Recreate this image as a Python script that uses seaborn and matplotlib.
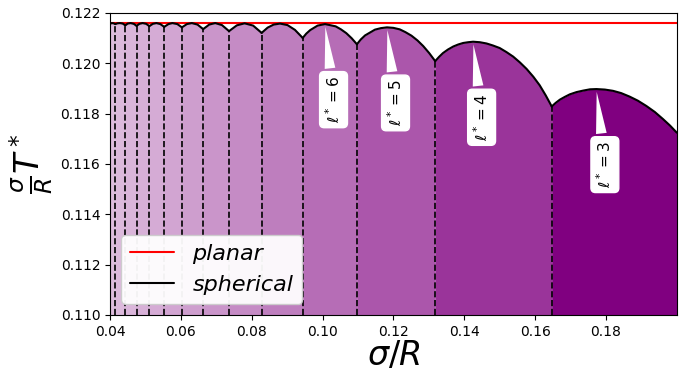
import numpy as np
import pandas as pd
import seaborn as sns
import matplotlib
matplotlib.use("agg")
import matplotlib.pyplot as plt

# data (sigma/R vs sigma/R * T*)
planar_T = 0.12161
x_range = [0.04, 0.20]

l_values = [16, 15, 14, 13, 12, 11, 10, 9, 8, 7, 6, 5, 4, 3]

seg_x = [
    [0.0400, 0.0405, 0.0410, 0.0415],
    [0.0415, 0.0421, 0.0428, 0.0436, 0.0443],
    [0.0443, 0.0450, 0.0458, 0.0467, 0.0475],
    [0.0475, 0.0483, 0.0492, 0.0502, 0.0511],
    [0.0511, 0.0521, 0.0531, 0.0542, 0.0553],
    [0.0553, 0.0565, 0.0576, 0.0590, 0.0603],
    [0.0603, 0.0617, 0.0631, 0.0647, 0.0663],
    [0.0663, 0.0680, 0.0697, 0.0716, 0.0736],
    [0.0736, 0.0758, 0.0780, 0.0804, 0.0828],
    [0.0828, 0.0845, 0.0862, 0.0880, 0.0901, 0.0922, 0.0944],
    [0.0944, 0.0954, 0.0965, 0.0986, 0.1007, 0.1037, 0.1052, 0.1067, 0.1082, 0.1097],
    [0.1097, 0.1108, 0.1120, 0.1148, 0.1165, 0.1182, 0.1200, 0.1218, 0.1234, 0.1251,
     0.1268, 0.1284, 0.1301, 0.1318],
    [0.1318, 0.1329, 0.1340, 0.1354, 0.1369, 0.1383, 0.1397, 0.1411, 0.1425, 0.1444,
     0.1463, 0.1481, 0.1500, 0.1519, 0.1538, 0.1557, 0.1576, 0.1595, 0.1613, 0.1630, 0.1647],
    [0.1647, 0.1658, 0.1670, 0.1684, 0.1698, 0.1717, 0.1736, 0.1755, 0.1773, 0.1797,
     0.1820, 0.1843, 0.1867, 0.1890, 0.1914, 0.1938, 0.1961, 0.1981, 0.2000],
]
seg_y = [
    [0.12156, 0.12159, 0.12158, 0.12155],
    [0.12155, 0.12158, 0.12159, 0.12157, 0.12150],
    [0.12150, 0.12157, 0.12159, 0.12156, 0.12148],
    [0.12148, 0.12156, 0.12159, 0.12156, 0.12147],
    [0.12147, 0.12156, 0.12159, 0.12155, 0.12144],
    [0.12144, 0.12155, 0.12159, 0.12155, 0.12142],
    [0.12142, 0.12155, 0.12159, 0.12153, 0.12135],
    [0.12135, 0.12153, 0.12159, 0.12151, 0.12127],
    [0.12127, 0.12150, 0.12158, 0.12149, 0.12120],
    [0.12120, 0.12141, 0.12153, 0.12157, 0.12151, 0.12132, 0.12100],
    [0.12100, 0.12117, 0.12131, 0.12149, 0.12155, 0.12146, 0.12134, 0.12119, 0.12099, 0.12075],
    [0.12075, 0.12094, 0.12110, 0.12133, 0.12139, 0.12142, 0.12140, 0.12134, 0.12123, 0.12109,
     0.12090, 0.12068, 0.12040, 0.12008],
    [0.12008, 0.12025, 0.12040, 0.12054, 0.12066, 0.12074, 0.12080, 0.12083, 0.12085, 0.12083,
     0.12078, 0.12070, 0.12060, 0.12044, 0.12026, 0.12003, 0.11977, 0.11946, 0.11912, 0.11872, 0.11828],
    [0.11828, 0.11842, 0.11855, 0.11866, 0.11876, 0.11885, 0.11891, 0.11896, 0.11897, 0.11895,
     0.11890, 0.11881, 0.11867, 0.11851, 0.11830, 0.11806, 0.11778, 0.11752, 0.11724],
]
labelled = [6, 5, 4, 3]

rows = []
for l, xs, ys in zip(l_values, seg_x, seg_y):
    for x, y in zip(xs, ys):
        rows.append({'l': l, 'x': x, 'T': y})
df = pd.DataFrame(rows)

sns.set_style('ticks', {'text.color': 'black', 'axes.labelcolor': 'black',
                        'xtick.color': 'black', 'ytick.color': 'black',
                        'axes.edgecolor': 'black'})
plt.rcParams['font.family'] = ['DejaVu Sans']

fig, ax = plt.subplots(figsize=(6.92, 3.75), dpi=100)
plt.subplots_adjust(left=0.159, right=0.978, top=0.966, bottom=0.16)

ymin = 0.110
# planar reference
sns.lineplot(x=x_range, y=[planar_T, planar_T], color='red', lw=1.5, ax=ax, label='planar')

first = True
for l in l_values:
    d = df[df['l'] == l]
    a = (3.0 / l) ** 0.8
    ax.fill_between(d['x'], d['T'], ymin, color='purple', alpha=a, lw=0)
    sns.lineplot(data=d, x='x', y='T', color='black', lw=1.5, ax=ax,
                 label='spherical' if first else None, sort=False)
    first = False
    # dashed boundary on the left side of each segment
    if d['x'].iloc[0] > x_range[0]:
        ax.vlines(d['x'].iloc[0], ymin, d['T'].iloc[0], colors='black',
                  linestyles='--', lw=1.2)
    if l in labelled:
        ipk = d['T'].idxmax()
        px, py = d.loc[ipk, 'x'], d.loc[ipk, 'T']
        ax.annotate(r'$\ell^* = %d$' % l, xy=(px, py), xytext=(px + 0.0024, py - 0.0030),
                    rotation=90, ha='center', va='center', fontsize=11,
                    bbox=dict(boxstyle='round', fc='w', ec='w'),
                    arrowprops=dict(arrowstyle='wedge,tail_width=0.7', fc='w', ec='none'))

ax.set_xlim(x_range)
ax.set_ylim(ymin, 0.122)
ax.set_xticks(np.arange(0.04, 0.19, 0.02))
ax.set_yticks(np.arange(0.110, 0.1225, 0.002))
ax.set_yticklabels(['%.3f' % v for v in np.arange(0.110, 0.1225, 0.002)])
ax.set_xlabel(r'$\sigma/R$', fontsize=24, labelpad=0)
ax.set_ylabel(r'$\frac{\sigma}{R}T^*$', fontsize=24)
ax.legend(loc='lower left', prop={'style': 'italic', 'size': 16}, framealpha=0.95)

plt.savefig('out.png', dpi=100)
plt.close()
